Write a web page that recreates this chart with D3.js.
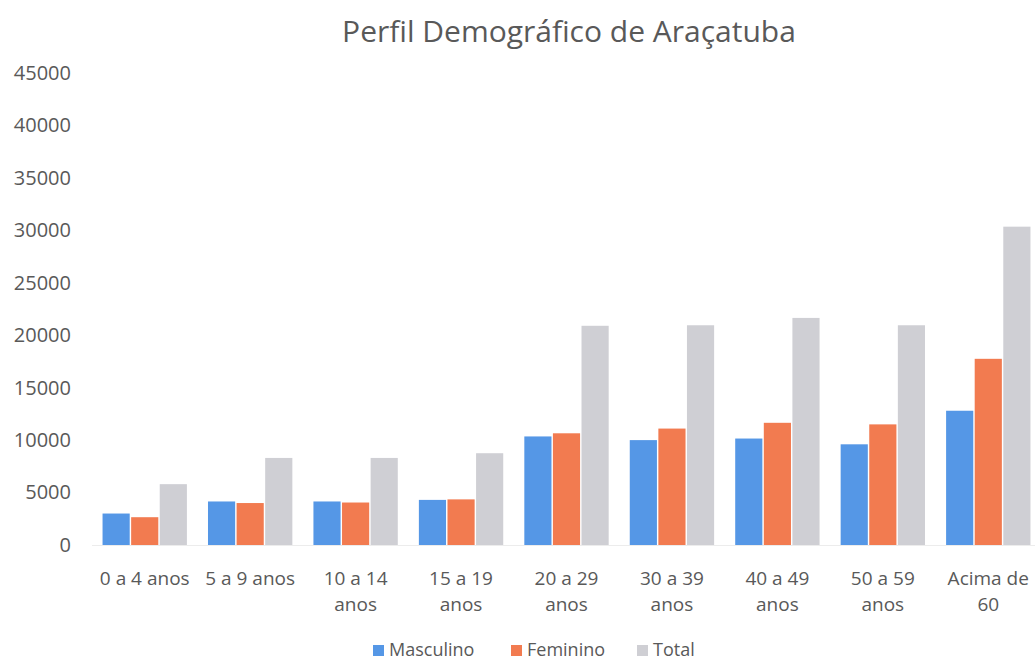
<!DOCTYPE html>
<html>
<head>
<meta charset="utf-8">
<script src="https://cdn.jsdelivr.net/npm/d3@7"></script>
<style>
body { margin: 0; background: #fff; overflow: hidden; }
text { font-family: "Open Sans", "Noto Sans", sans-serif; fill: #595959; }
</style>
</head>
<body>
<script>
var categories = [["0 a 4 anos"], ["5 a 9 anos"], ["10 a 14", "anos"], ["15 a 19", "anos"],
	["20 a 29", "anos"], ["30 a 39", "anos"], ["40 a 49", "anos"], ["50 a 59", "anos"], ["Acima de", "60"]];
var series = ["Masculino", "Feminino", "Total"];
var masculino = [3000, 4150, 4150, 4300, 10350, 10000, 10150, 9600, 12800];
var feminino = [2650, 4000, 4050, 4350, 10650, 11100, 11650, 11500, 17750];
var total = [5800, 8300, 8300, 8750, 20900, 20950, 21650, 20950, 30350];
var yTicks = [0, 5000, 10000, 15000, 20000, 25000, 30000, 35000, 40000, 45000];
var colors = ["#5597e6", "#f27b50", "#cfcfd4"];

var width = 1035, height = 662,
	margin = {top: 73, bottom: 117, left: 92, right: -6};

var values = [masculino, feminino, total];

var svg = d3.select("body").append("svg")
	.attr("width", width)
	.attr("height", height);

var x0 = d3.scaleBand()
	.domain(d3.range(categories.length))
	.range([margin.left, width - margin.right])
	.paddingInner(0.2)
	.paddingOuter(0.1);

var x1 = d3.scaleBand()
	.domain(d3.range(series.length))
	.range([0, x0.bandwidth()])
	.paddingInner(0.05);

var y = d3.scaleLinear()
	.domain([0, 45000])
	.range([height - margin.bottom, margin.top]);

// title
svg.append("text")
	.attr("x", 569)
	.attr("y", 42)
	.style("text-anchor", "middle")
	.style("font-size", "30px")
	.text("Perfil Demográfico de Araçatuba");

// y axis
var yAxis = d3.axisLeft(y).tickValues(yTicks).tickSize(0).tickPadding(0).tickFormat(d3.format("d"));
var gY = svg.append("g")
	.attr("transform", "translate(71,0)")
	.call(yAxis);
gY.select(".domain").remove();
gY.selectAll("text")
	.style("font-size", "20px")
	.style("font-family", "'Open Sans', sans-serif")
	.attr("fill", "#595959");

// bars
var groups = svg.selectAll(".grp")
	.data(categories)
	.enter().append("g")
		.attr("class", "grp")
		.attr("transform", function(d, i) { return "translate(" + x0(i) + ",0)"; });

groups.selectAll("rect")
	.data(function(d, i) { return values.map(function(v, s) { return {s: s, v: v[i]}; }); })
	.enter().append("rect")
		.attr("x", function(d) { return x1(d.s); })
		.attr("width", x1.bandwidth())
		.attr("y", function(d) { return y(d.v); })
		.attr("height", function(d) { return y(0) - y(d.v); })
		.attr("fill", function(d) { return colors[d.s]; });

// baseline
svg.append("line")
	.attr("x1", margin.left)
	.attr("x2", width)
	.attr("y1", y(0) + 0.5)
	.attr("y2", y(0) + 0.5)
	.attr("stroke", "#ececec");

// category labels
groups.each(function(d, i) {
	var t = d3.select(this).append("text")
		.attr("x", x0.bandwidth() / 2)
		.attr("y", 585)
		.style("text-anchor", "middle")
		.style("font-size", "19px");
	d.forEach(function(line, k) {
		t.append("tspan")
			.attr("x", x0.bandwidth() / 2)
			.attr("dy", k === 0 ? 0 : 26)
			.text(line);
	});
});

// legend
var legendX = [373, 511, 637];
var legend = svg.selectAll(".leg")
	.data(series)
	.enter().append("g")
		.attr("class", "leg")
		.attr("transform", function(d, i) { return "translate(" + legendX[i] + ",645)"; });
legend.append("rect")
	.attr("width", 11)
	.attr("height", 11)
	.attr("fill", function(d, i) { return colors[i]; });
legend.append("text")
	.attr("x", 16)
	.attr("y", 11)
	.style("font-size", "18px")
	.text(function(d) { return d; });
</script>
</body>
</html>
